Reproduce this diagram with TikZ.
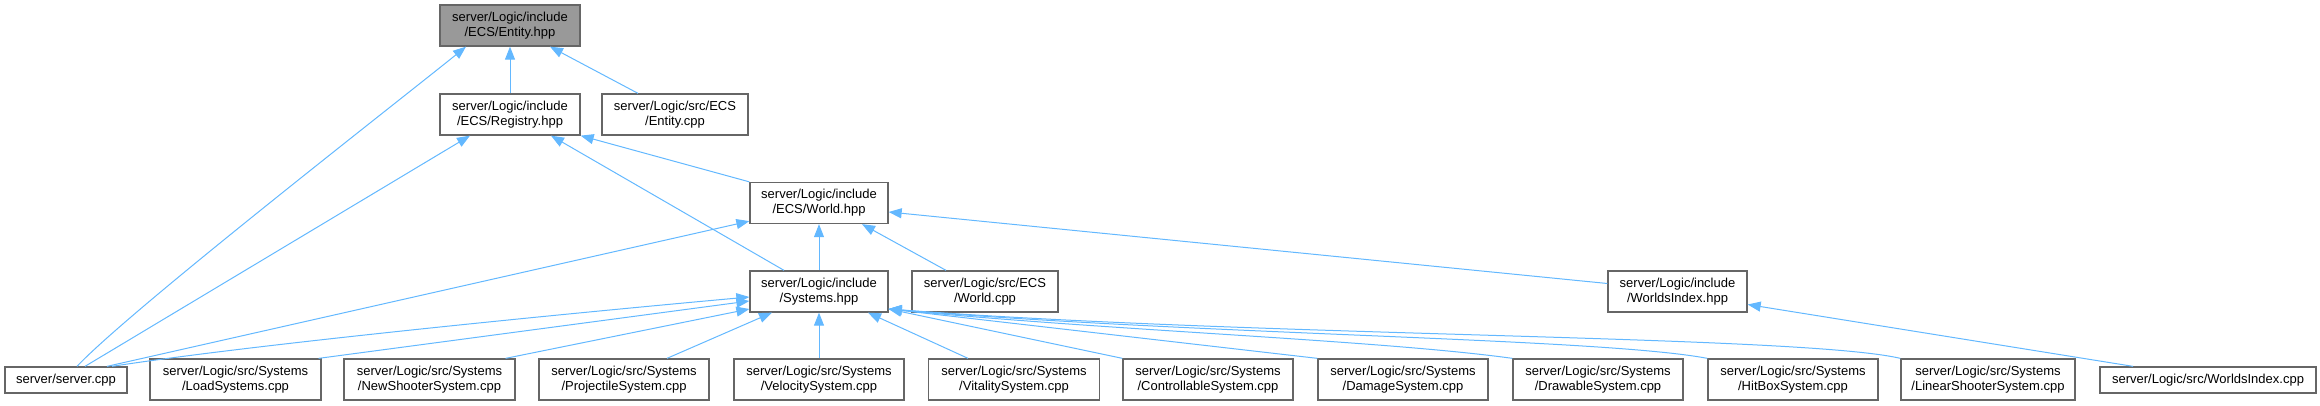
\documentclass[tikz,border=0pt]{standalone}
\usepackage{fontspec}
\setmainfont{Liberation Sans}
\usetikzlibrary{arrows.meta,calc}
\definecolor{nodeborder}{HTML}{666666}
\definecolor{rootfill}{HTML}{999999}
\definecolor{edgeblue}{HTML}{63B8FF}
\tikzset{
  box/.style={draw=nodeborder, line width=1.3pt, fill=white, inner sep=0pt,
    minimum height=41pt, align=center, font=\fontsize{13}{15}\selectfont},
  onebox/.style={box, minimum height=26pt},
  rootbox/.style={box, fill=rootfill},
  edge/.style={draw=edgeblue, line width=1pt, -{Triangle[length=13pt,width=10pt]}}
}
\begin{document}
\begin{tikzpicture}[x=1pt,y=-1pt]
\useasboundingbox (0,0) rectangle (2320,406);
% top levels
\node[rootbox, minimum width=140pt] (entityh) at (510,25.5) {server/Logic/include\\/ECS/Entity.hpp};
\node[box, minimum width=140pt] (registry) at (510,114.5) {server/Logic/include\\/ECS/Registry.hpp};
\node[box, minimum width=146pt] (entitycpp) at (675,114.5) {server/Logic/src/ECS\\/Entity.cpp};
\node[box, minimum width=138pt] (world) at (819,203) {server/Logic/include\\/ECS/World.hpp};
\node[box, minimum width=138pt] (systems) at (819,291.5) {server/Logic/include\\/Systems.hpp};
\node[box, minimum width=146pt] (worldcpp) at (985,291.5) {server/Logic/src/ECS\\/World.cpp};
\node[box, minimum width=139pt] (worldsidx) at (1677.5,291.5) {server/Logic/include\\/WorldsIndex.hpp};
% bottom row
\node[onebox, minimum width=122pt] (server) at (66,380) {server/server.cpp};
\node[box, minimum width=171pt] (load) at (235.5,379.5) {server/Logic/src/Systems\\/LoadSystems.cpp};
\node[box, minimum width=171pt] (newshooter) at (429.5,379.5) {server/Logic/src/Systems\\/NewShooterSystem.cpp};
\node[box, minimum width=170pt] (projectile) at (624,379.5) {server/Logic/src/Systems\\/ProjectileSystem.cpp};
\node[box, minimum width=170pt] (velocity) at (819,379.5) {server/Logic/src/Systems\\/VelocitySystem.cpp};
\node[box, minimum width=171pt] (vitality) at (1014,379.5) {server/Logic/src/Systems\\/VitalitySystem.cpp};
\node[box, minimum width=170pt] (controllable) at (1208,379.5) {server/Logic/src/Systems\\/ControllableSystem.cpp};
\node[box, minimum width=170pt] (damage) at (1403,379.5) {server/Logic/src/Systems\\/DamageSystem.cpp};
\node[box, minimum width=170pt] (drawable) at (1598,379.5) {server/Logic/src/Systems\\/DrawableSystem.cpp};
\node[box, minimum width=170pt] (hitbox) at (1793,379.5) {server/Logic/src/Systems\\/HitBoxSystem.cpp};
\node[box, minimum width=174pt] (linear) at (1988,379.5) {server/Logic/src/Systems\\/LinearShooterSystem.cpp};
\node[onebox, minimum width=216pt] (worldsidxcpp) at (2208,380) {server/Logic/src/WorldsIndex.cpp};
% edges into Entity.hpp
\draw[edge] (registry.north) -- (entityh.south);
\draw[edge] ($(entitycpp.north)+(-37,0)$) -- ($(entityh.south)+(40,0)$);
\draw[edge] ($(server.north)+(11,0)$) .. controls (130,310) and (400,100) .. ($(entityh.south)+(-44,0)$);
% edges into Registry.hpp
\draw[edge] (world.north west) -- (registry.south east);
\draw[edge] ($(systems.north)+(-35,0)$) -- ($(registry.south)+(41,0)$);
\draw[edge] ($(server.north)+(19,0)$) -- ($(registry.south)+(-40,0)$);
% edges into World.hpp
\draw[edge] (systems.north) -- (world.south);
\draw[edge] ($(worldcpp.north)+(-39,0)$) -- ($(world.south)+(43,0)$);
\draw[edge] ($(server.north)+(41,0)$) -- ($(world.south west)+(0,-3)$);
\draw[edge] ($(worldsidx.west)+(0,-8)$) -- ($(world.east)+(0,9)$);
% edge into WorldsIndex.hpp
\draw[edge] ($(worldsidxcpp.north)+(-75,0)$) -- ($(worldsidx.east)+(0,13)$);
% edges into Systems.hpp
\draw[edge] ($(server.north)+(46,0)$) .. controls (250,345) and (550,315) .. ($(systems.west)+(0,5.5)$);
\draw[edge] ($(load.north east)+(-3,0)$) -- ($(systems.west)+(0,9.5)$);
\draw[edge] ($(newshooter.north east)+(-10,0)$) -- ($(systems.west)+(0,17.5)$);
\draw[edge] ($(projectile.north)+(43,0)$) -- ($(systems.south)+(-47,0)$);
\draw[edge] (velocity.north) -- (systems.south);
\draw[edge] ($(vitality.north)+(-46,0)$) -- ($(systems.south)+(49,0)$);
\draw[edge] (controllable.north west) -- ($(systems.east)+(0,17.5)$);
\draw[edge] (damage.north west) -- ($(systems.east)+(0,17.5)$);
\draw[edge] (drawable.north west) .. controls (1380,340) and (1100,330) .. ($(systems.east)+(0,17.5)$);
\draw[edge] (hitbox.north west) .. controls (1600,338) and (1200,335) .. ($(systems.east)+(0,17.5)$);
\draw[edge] (linear.north west) .. controls (1800,335) and (1260,337) .. ($(systems.east)+(0,17.5)$);
\end{tikzpicture}
\end{document}
